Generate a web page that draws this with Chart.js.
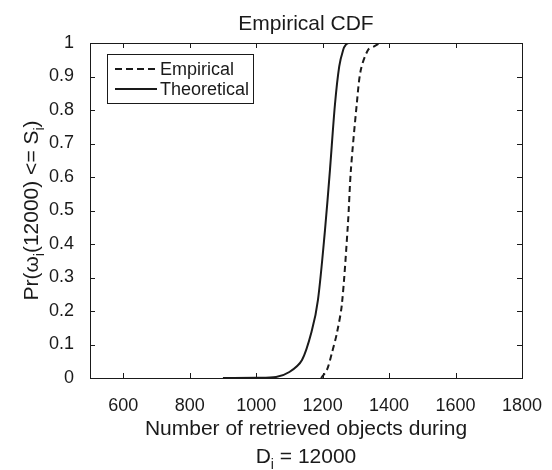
<!DOCTYPE html>
<html>
<head>
<meta charset="utf-8">
<script src="https://cdn.jsdelivr.net/npm/chart.js@4"></script>
<style>
  body { margin: 0; background: #fff; }
  #wrap { width: 552px; height: 470px; }
</style>
</head>
<body>
<div id="wrap"><canvas id="cdfChart" width="552" height="470"></canvas></div>
<script>
// values
const theoX = [900, 1000, 1060, 1100, 1138, 1168, 1186, 1207, 1222, 1237, 1250, 1262, 1270, 1278, 1300];
const theoY = [0, 0.0005, 0.003, 0.018, 0.054, 0.143, 0.233, 0.44, 0.62, 0.815, 0.93, 0.98, 0.995, 1, 1];
const empX = [1195, 1198, 1213, 1228, 1243, 1258, 1276, 1285, 1303, 1315, 1337, 1355, 1373];
const empY = [0, 0.003, 0.024, 0.075, 0.134, 0.22, 0.457, 0.62, 0.82, 0.92, 0.98, 0.99, 1];
const xTicks = [600, 800, 1000, 1200, 1400, 1600, 1800];
const yTicks = [0, 0.1, 0.2, 0.3, 0.4, 0.5, 0.6, 0.7, 0.8, 0.9, 1];
const seriesNames = ["Empirical", "Theoretical"];

const FONT = "'Liberation Sans', Arial, sans-serif";
const INK = "#1a1a1a";
const BIG = "21px " + FONT;
const SUB = "14px " + FONT;

function toPoints(xs, ys) {
    return xs.map((x, i) => ({ x: x, y: ys[i] }));
}

// text pieces with subscripts, centred on cx
function drawPieces(c, pieces, cx, base) {
    let total = 0;
    pieces.forEach(p => {
        c.font = p[1] ? SUB : BIG;
        total += c.measureText(p[0]).width;
    });
    let x = cx - total / 2;
    c.textAlign = "left";
    pieces.forEach(p => {
        c.font = p[1] ? SUB : BIG;
        c.fillText(p[0], x, p[1] ? base + 6 : base);
        x += c.measureText(p[0]).width;
    });
}

// MATLAB style frame, inward ticks, title, axis labels and legend
const matlabLook = {
    id: "matlabLook",
    afterDraw(chart) {
        const c = chart.ctx;
        const a = chart.chartArea;
        const xs = chart.scales.x;
        const ys = chart.scales.y;
        c.save();
        c.strokeStyle = INK;
        c.lineWidth = 1;
        c.strokeRect(a.left + 0.5, a.top + 0.5, a.right - a.left, a.bottom - a.top);
        const tl = 5;
        c.beginPath();
        xTicks.forEach(v => {
            const px = Math.round(xs.getPixelForValue(v)) + 0.5;
            c.moveTo(px, a.bottom); c.lineTo(px, a.bottom - tl);
            c.moveTo(px, a.top); c.lineTo(px, a.top + tl);
        });
        yTicks.forEach(v => {
            const py = Math.round(ys.getPixelForValue(v)) + 0.5;
            c.moveTo(a.left, py); c.lineTo(a.left + tl, py);
            c.moveTo(a.right, py); c.lineTo(a.right - tl, py);
        });
        c.stroke();

        c.fillStyle = INK;
        c.textBaseline = "alphabetic";
        const cx = (a.left + a.right) / 2;
        c.textAlign = "center";
        c.font = BIG;
        c.fillText("Empirical CDF", cx, 30);

        // x axis label, two lines
        c.fillText("Number of retrieved objects during", cx, 435);
        drawPieces(c, [["D", false], ["i", true], [" = 12000", false]], cx, 463);

        // y axis label, rotated
        c.save();
        c.translate(38, (a.top + a.bottom) / 2);
        c.rotate(-Math.PI / 2);
        drawPieces(c, [["Pr(\u03c9", false], ["i", true], ["(12000) <= S", false], ["i", true], [")", false]], 0, 0);
        c.restore();

        // legend box
        const lx = 107, ly = 54, lw = 146, lh = 49;
        c.fillStyle = "#fff";
        c.fillRect(lx, ly, lw, lh);
        c.strokeRect(lx + 0.5, ly + 0.5, lw, lh);
        c.lineWidth = 2;
        c.beginPath();
        c.setLineDash([7, 4]);
        c.moveTo(115, 69); c.lineTo(157, 69);
        c.stroke();
        c.beginPath();
        c.setLineDash([]);
        c.moveTo(115, 89); c.lineTo(157, 89);
        c.stroke();
        c.fillStyle = INK;
        c.font = "18px " + FONT;
        c.textAlign = "left";
        c.fillText(seriesNames[0], 160, 75);
        c.fillText(seriesNames[1], 160, 95);
        c.restore();
    }
};

const ctx = document.getElementById("cdfChart").getContext("2d");
new Chart(ctx, {
    type: "line",
    data: {
        datasets: [
            {
                label: seriesNames[0],
                data: toPoints(empX, empY),
                borderColor: INK,
                borderWidth: 2,
                borderDash: [6, 4],
                pointRadius: 0,
                tension: 0.3,
                fill: false,
            },
            {
                label: seriesNames[1],
                data: toPoints(theoX, theoY),
                borderColor: INK,
                borderWidth: 2,
                pointRadius: 0,
                tension: 0.3,
                fill: false,
            },
        ],
    },
    options: {
        responsive: false,
        animation: false,
        layout: { padding: { top: 43, right: 30, left: 0, bottom: 0 } },
        plugins: {
            legend: { display: false },
            title: { display: false },
            tooltip: { enabled: false },
        },
        scales: {
            x: {
                type: "linear",
                min: 500,
                max: 1800,
                grid: { display: false },
                border: { display: false },
                afterBuildTicks: s => { s.ticks = xTicks.map(v => ({ value: v })); },
                afterFit: s => { s.height = 92; },
                ticks: {
                    color: INK,
                    padding: 9,
                    maxRotation: 0,
                    font: { family: FONT, size: 18 },
                    callback: v => String(v),
                },
            },
            y: {
                type: "linear",
                min: 0,
                max: 1,
                grid: { display: false },
                border: { display: false },
                afterBuildTicks: s => { s.ticks = yTicks.map(v => ({ value: v })); },
                afterFit: s => { s.width = 90; },
                ticks: {
                    color: INK,
                    padding: 8,
                    font: { family: FONT, size: 18 },
                    callback: v => String(Math.round(v * 10) / 10),
                },
            },
        },
    },
    plugins: [matlabLook],
});
</script>
</body>
</html>
